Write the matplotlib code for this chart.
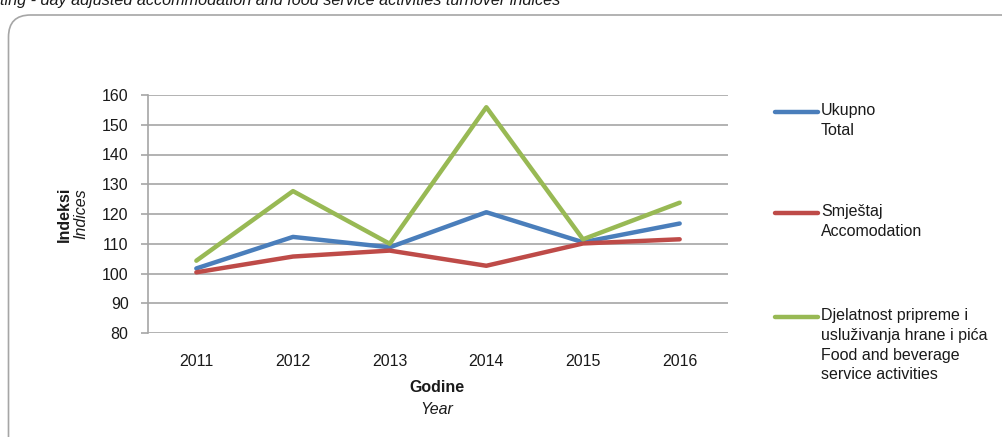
import matplotlib
matplotlib.use("Agg")
import matplotlib.pyplot as plt
from matplotlib.patches import FancyBboxPatch
from matplotlib.lines import Line2D

years = ["2011", "2012", "2013", "2014", "2015", "2016"]
total = [101.7, 112.3, 108.8, 120.6, 110.5, 116.8]
accomodation = [100.4, 105.7, 107.7, 102.6, 110.1, 111.5]
food_beverage = [104.3, 127.7, 110.0, 155.9, 111.5, 123.8]

series_labels = ["Ukupno\nTotal", "Smještaj\nAccomodation",
                 "Djelatnost pripreme i\nusluživanja hrane i pića\nFood and beverage\nservice activities"]
colors = ["#4A7EBB", "#BE4B48", "#98B954"]

plt.rcParams['font.family'] = ['Liberation Sans', 'DejaVu Sans']
txt = "#1a1a1a"
W, H = 1003, 437
fs = 11.5

fig = plt.figure(figsize=(W / 100, H / 100), dpi=100)

def fx(px):
    return px / W

def fy(py):
    return 1 - py / H

# rounded frame around chart
frame = FancyBboxPatch((0.085, -0.5), 10.15, 4.72,
                       boxstyle="round,pad=0,rounding_size=0.22",
                       transform=fig.dpi_scale_trans, fill=False,
                       edgecolor="#A6A6A6", linewidth=1.2)
fig.patches.append(frame)

# caption (cut off at the top like in the source page)
fig.text(fx(0), fy(5), "ting - day adjusted accommodation and food service activities turnover indices",
         fontsize=11.7, style="italic", color=txt, ha="left", va="baseline")

ax = fig.add_axes([fx(148), fy(333), fx(728) - fx(148), fy(95) - fy(333)])
x = range(len(years))
for vals, c in zip([total, accomodation, food_beverage], colors):
    ax.plot(x, vals, color=c, linewidth=3.2, solid_capstyle="round", zorder=3)

ax.set_xlim(-0.5, len(years) - 0.5)
ax.set_ylim(80, 160)
ax.set_yticks(range(80, 161, 10))
ax.set_xticks(list(x))
ax.set_xticklabels(years)
ax.yaxis.grid(True, color="#A6A6A6", linewidth=1.2)
ax.set_axisbelow(True)
for s in ["top", "right", "bottom"]:
    ax.spines[s].set_visible(False)
ax.spines["left"].set_color("#A6A6A6")
ax.spines["left"].set_linewidth(1.2)
ax.tick_params(axis="y", length=5, width=1.2, color="#A6A6A6", labelsize=fs, labelcolor=txt, pad=9)
ax.tick_params(axis="x", length=0, labelsize=fs, labelcolor=txt, pad=15)

# axis titles
fig.text(fx(437), fy(387), "Godine", fontsize=fs, fontweight="bold", color=txt, ha="center", va="center")
fig.text(fx(437), fy(410), "Year", fontsize=fs, style="italic", color=txt, ha="center", va="center")
fig.text(fx(64), fy(214), "Indeksi", fontsize=fs, fontweight="bold", color=txt,
         ha="center", va="center", rotation=90)
fig.text(fx(81), fy(214), "Indices", fontsize=fs, style="italic", color=txt,
         ha="center", va="center", rotation=90)

# legend
leg_y = [112, 213, 317]
for lab, c, ly in zip(series_labels, colors, leg_y):
    fig.add_artist(Line2D([fx(775), fx(818)], [fy(ly), fy(ly)], color=c, linewidth=3.2,
                          solid_capstyle="round"))
    fig.text(fx(821), fy(ly - 9), lab, fontsize=fs, color=txt, ha="left", va="top",
             linespacing=1.4)

fig.savefig("out.png", dpi=100)
